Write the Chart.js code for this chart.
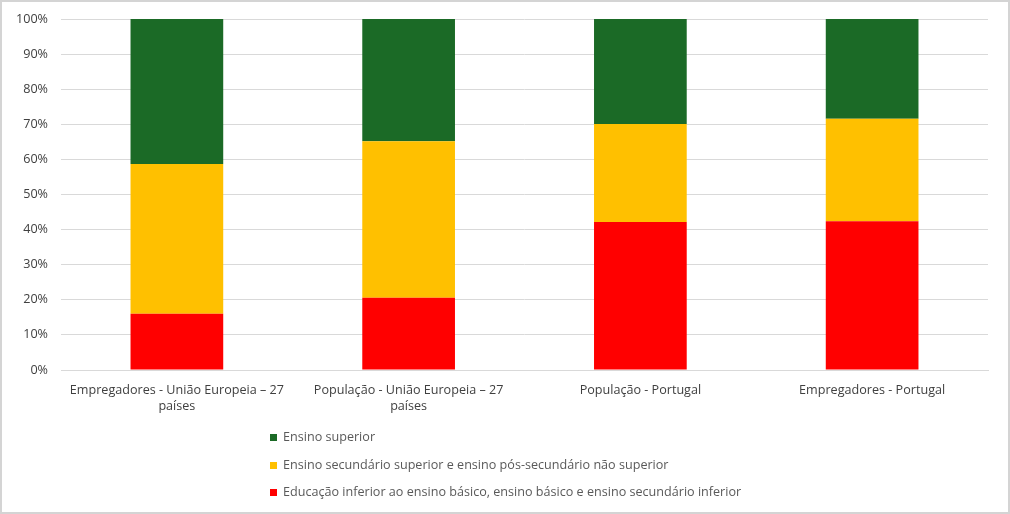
<!DOCTYPE html>
<html>
<head>
<meta charset="utf-8">
<script src="https://cdn.jsdelivr.net/npm/chart.js@4.4.1/dist/chart.umd.min.js"></script>
<style>
    body { margin: 0; background: #fff; }
    #wrap { position: relative; width: 1010px; height: 514px; box-sizing: border-box; border: 2px solid #d4d4d4; background: #fff; }
    #chart { position: absolute; left: -2px; top: -2px; }
    #legend { position: absolute; left: 268px; top: 421px; font-family: "Open Sans", sans-serif; font-size: 12.6px; color: #595959; }
    #legend div { height: 27.5px; line-height: 27.5px; white-space: nowrap; }
    #legend span { display: inline-block; width: 7px; height: 7px; margin-right: 6px; vertical-align: 0px; }
</style>
</head>
<body>
<div id="wrap">
    <canvas id="chart" width="1010" height="425"></canvas>
    <div id="legend"></div>
</div>
<script>
// categories (x axis)
var categories = [
    ['Empregadores - União Europeia – 27', 'países'],
    ['População - União Europeia – 27', 'países'],
    'População - Portugal',
    'Empregadores - Portugal'
];

// series values, in %
var basico = [16.0, 20.6, 42.2, 42.4];
var secundario = [42.7, 44.6, 27.9, 29.2];
var superior = [41.3, 34.8, 29.9, 28.4];

var seriesNames = [
    'Educação inferior ao ensino básico, ensino básico e ensino secundário inferior',
    'Ensino secundário superior e ensino pós-secundário não superior',
    'Ensino superior'
];

// y ticks
var yTicks = [0, 10, 20, 30, 40, 50, 60, 70, 80, 90, 100];

var font = { family: '"Open Sans", sans-serif', size: 12.6, lineHeight: 1.3 };

var ctx = document.getElementById('chart').getContext('2d');
var chart = new Chart(ctx, {
    type: 'bar',
    data: {
        labels: categories,
        datasets: [
            { label: seriesNames[0], data: basico, backgroundColor: '#ff0000' },
            { label: seriesNames[1], data: secundario, backgroundColor: '#ffc000' },
            { label: seriesNames[2], data: superior, backgroundColor: '#1b6a26' }
        ]
    },
    options: {
        responsive: false,
        animation: false,
        layout: { padding: { top: 19, right: 22, bottom: 0, left: 0 } },
        datasets: { bar: { categoryPercentage: 1, barPercentage: 0.4 } },
        plugins: {
            legend: { display: false },
            tooltip: { enabled: false }
        },
        scales: {
            x: {
                stacked: true,
                grid: { display: false },
                border: { color: '#d9d9d9', width: 1 },
                ticks: { color: '#404040', font: font, padding: 4, maxRotation: 0, autoSkip: false },
                afterFit: function (scale) {
                    scale.height = 55;
                    scale.paddingLeft = 0;
                    scale.paddingRight = 0;
                }
            },
            y: {
                stacked: true,
                min: 0,
                max: 100,
                afterBuildTicks: function (scale) {
                    scale.ticks = yTicks.map(function (v) { return { value: v }; });
                },
                grid: { color: '#d9d9d9', drawTicks: false },
                border: { display: false },
                ticks: {
                    color: '#404040',
                    font: font,
                    padding: 13,
                    callback: function (v) { return v + '%'; }
                },
                afterFit: function (scale) {
                    scale.width = 61;
                    scale.paddingTop = 0;
                    scale.paddingBottom = 0;
                }
            }
        }
    }
});

// legend, same order as the picture (top series first)
var legend = document.getElementById('legend');
chart.data.datasets.slice().reverse().forEach(function (ds) {
    var row = document.createElement('div');
    var box = document.createElement('span');
    box.style.background = ds.backgroundColor;
    row.appendChild(box);
    row.appendChild(document.createTextNode(ds.label));
    legend.appendChild(row);
});
</script>
</body>
</html>
